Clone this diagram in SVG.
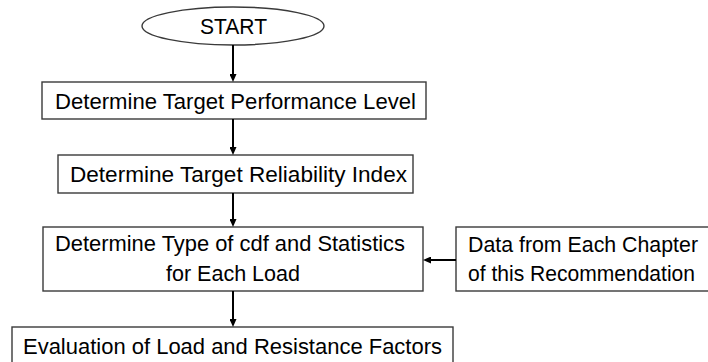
<svg xmlns="http://www.w3.org/2000/svg" width="708" height="362" viewBox="0 0 708 362">
<style>
.box{fill:#fff;stroke:#3a3a3a;stroke-width:1.4}
.t{font-family:"Liberation Sans",Arial,sans-serif;font-size:22px;fill:#000}
.c{stroke:#000;stroke-width:2;fill:none}
</style>
<defs>
<marker id="ah" markerUnits="userSpaceOnUse" markerWidth="9" markerHeight="7" refX="2" refY="3.5" orient="auto">
<path d="M0,0 L8,3.5 L0,7 z" fill="#000"/>
</marker>
</defs>
<rect width="708" height="362" fill="#fff"/>
<g id="start">
<ellipse cx="233" cy="26" rx="91" ry="19" class="box"/>
<text class="t" x="200" y="34" textLength="67" lengthAdjust="spacingAndGlyphs">START</text>
</g>
<g id="n1">
<rect x="42" y="82" width="384" height="37" class="box"/>
<text class="t" x="55" y="108.5" textLength="361" lengthAdjust="spacingAndGlyphs">Determine Target Performance Level</text>
</g>
<g id="n2">
<rect x="58" y="155" width="355" height="38" class="box"/>
<text class="t" x="70" y="182" textLength="337" lengthAdjust="spacingAndGlyphs">Determine Target Reliability Index</text>
</g>
<g id="n3">
<rect x="43" y="227" width="380" height="64" class="box"/>
<text class="t" x="55" y="251" textLength="350" lengthAdjust="spacingAndGlyphs">Determine Type of cdf and Statistics</text>
<text class="t" x="166" y="281" textLength="134" lengthAdjust="spacingAndGlyphs">for Each Load</text>
</g>
<g id="n4">
<rect x="12" y="327" width="441" height="40" class="box"/>
<text class="t" x="23" y="354" textLength="419" lengthAdjust="spacingAndGlyphs">Evaluation of Load and Resistance Factors</text>
</g>
<g id="n5">
<rect x="456" y="227" width="256" height="64" class="box"/>
<text class="t" x="468" y="252" textLength="230" lengthAdjust="spacingAndGlyphs">Data from Each Chapter</text>
<text class="t" x="468" y="281" textLength="227" lengthAdjust="spacingAndGlyphs">of this Recommendation</text>
</g>
<g id="connectors">
<line x1="233" y1="45" x2="233" y2="76" class="c" marker-end="url(#ah)"/>
<line x1="233" y1="119" x2="233" y2="149" class="c" marker-end="url(#ah)"/>
<line x1="233" y1="193" x2="233" y2="221" class="c" marker-end="url(#ah)"/>
<line x1="233" y1="291" x2="233" y2="321" class="c" marker-end="url(#ah)"/>
<line x1="456" y1="260" x2="429" y2="260" class="c" marker-end="url(#ah)"/>
</g>
</svg>
